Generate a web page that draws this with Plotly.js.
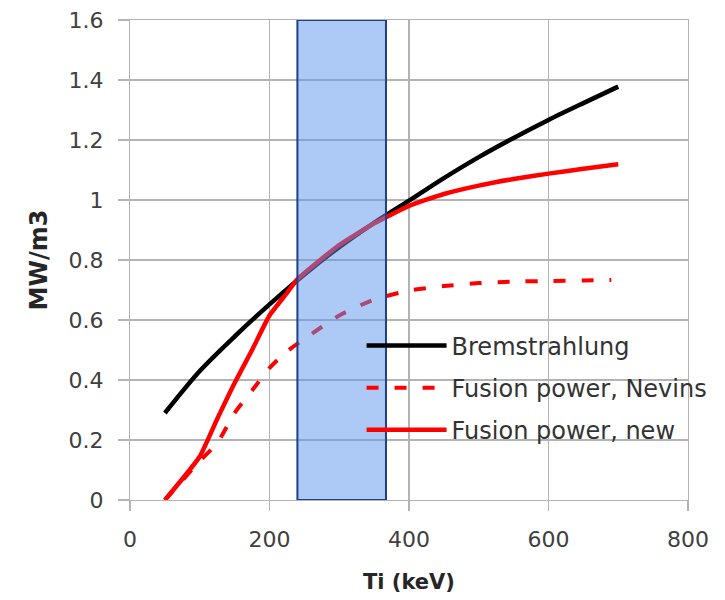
<!DOCTYPE html>
<html>
<head>
<meta charset="utf-8">
<script src="https://cdn.plot.ly/plotly-3.0.1.min.js"></script>
<style>html,body{margin:0;padding:0;background:#fff;}</style>
</head>
<body>
<div id="chart" style="width:725px;height:600px;"></div>
<script>
// Data
const bremX = [50, 100, 150, 200, 250, 300, 350, 400, 450, 500, 550, 600, 650, 700];
const bremY = [0.29, 0.43, 0.545, 0.652, 0.752, 0.843, 0.924, 0.998, 1.073, 1.143, 1.207, 1.267, 1.323, 1.378];

const nevinsX = [50, 75, 100, 125, 150, 175, 200, 225, 250, 300, 350, 400, 450, 500, 550, 600, 650, 690];
const nevinsY = [0.0, 0.065, 0.13, 0.19, 0.29, 0.365, 0.44, 0.495, 0.537, 0.615, 0.668, 0.698, 0.713, 0.723, 0.728, 0.73, 0.732, 0.733];

const newX = [50, 75, 100, 125, 150, 175, 200, 225, 240, 300, 350, 400, 450, 500, 550, 600, 650, 700];
const newY = [0.0, 0.07, 0.145, 0.27, 0.39, 0.50, 0.615, 0.69, 0.736, 0.85, 0.922, 0.98, 1.02, 1.048, 1.07, 1.088, 1.104, 1.119];

const seriesNames = ["Bremstrahlung", "Fusion power, Nevins", "Fusion power, new"];
const band = [240, 367];
const xTicks = [0, 200, 400, 600, 800];
const yTicks = [0, 0.2, 0.4, 0.6, 0.8, 1, 1.2, 1.4, 1.6];

const gridCol = "#b3b3b3";
const tickFont = {family: "DejaVu Sans", size: 22, color: "#404040"};

const traces = [
  {x: bremX, y: bremY, name: seriesNames[0], mode: "lines", legendgroup: "a",
   line: {color: "#000000", width: 4.5, shape: "spline", smoothing: 0.8}},
  {x: nevinsX, y: nevinsY, name: seriesNames[1], mode: "lines", legendgroup: "b",
   line: {color: "#ff0000", width: 4, dash: "12px,16px", shape: "spline", smoothing: 0.6}},
  {x: newX, y: newY, name: seriesNames[2], mode: "lines", legendgroup: "c",
   line: {color: "#ff0000", width: 4.5, shape: "spline", smoothing: 0.5}}
];

const layout = {
  width: 725, height: 600,
  margin: {l: 130, r: 37, t: 20, b: 100},
  paper_bgcolor: "#ffffff", plot_bgcolor: "#ffffff",
  showlegend: true,
  legend: {x: 0.415, xanchor: "left", y: 0.368, yanchor: "top",
           bgcolor: "rgba(0,0,0,0)", font: {family: "DejaVu Sans", size: 24, color: "#333333"},
           tracegroupgap: 8, itemwidth: 80},
  xaxis: {range: [0, 800], tickvals: xTicks, ticktext: xTicks.map(String),
          showgrid: true, gridcolor: gridCol, gridwidth: 1.2,
          showline: true, mirror: true, linecolor: gridCol, linewidth: 1.2,
          zeroline: false, ticks: "outside", ticklen: 10, tickcolor: gridCol, tickwidth: 1.2,
          tickfont: tickFont, ticklabelstandoff: 9, fixedrange: true,
          title: {text: "<b>Ti (keV)</b>", font: {family: "DejaVu Sans", size: 21, color: "#262626"}, standoff: 23}},
  yaxis: {range: [0, 1.6], tickvals: yTicks, ticktext: yTicks.map(v => String(v)),
          showgrid: true, gridcolor: gridCol, gridwidth: 1.2,
          showline: true, mirror: true, linecolor: gridCol, linewidth: 1.2,
          zeroline: false, ticks: "outside", ticklen: 11, tickcolor: gridCol, tickwidth: 1.2,
          tickfont: tickFont, ticklabelstandoff: 10, fixedrange: true,
          title: {text: "<b>MW/m3</b>", font: {family: "DejaVu Sans", size: 24, color: "#262626"}, standoff: 14}},
  shapes: [
    {type: "rect", xref: "x", yref: "y", x0: band[0], x1: band[1], y0: 0, y1: 1.6,
     layer: "above", fillcolor: "rgba(90,150,235,0.5)", line: {color: "#1d3f8c", width: 2}}
  ]
};

Plotly.newPlot("chart", traces, layout, {displayModeBar: false, staticPlot: true});
</script>
</body>
</html>
